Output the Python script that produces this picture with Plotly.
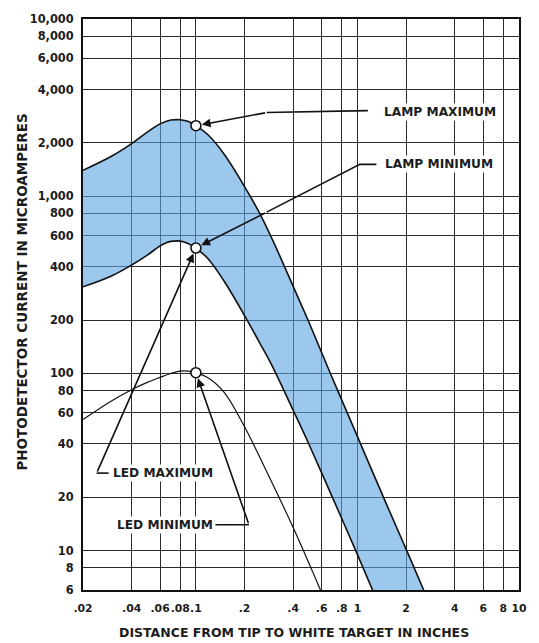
import numpy as np
import plotly.graph_objects as go

# ---- data ----
lamp_max_x = [0.02, 0.03, 0.04, 0.05, 0.06, 0.07, 0.08, 0.09, 0.1, 0.12, 0.15, 0.2, 0.25, 0.3, 0.4, 0.5, 0.7, 1.0, 1.5, 2.0, 2.57]
lamp_max_y = [1400, 1680, 1980, 2300, 2560, 2690, 2700, 2640, 2500, 2200, 1720, 1134, 790, 560, 310, 195, 94, 44, 18.6, 10.2, 6]

lamp_min_x = [0.02, 0.03, 0.04, 0.05, 0.06, 0.065, 0.07, 0.08, 0.09, 0.1, 0.12, 0.15, 0.2, 0.25, 0.3, 0.4, 0.5, 0.7, 1.0, 1.24]
lamp_min_y = [308, 355, 409, 465, 525, 545, 556, 558, 540, 510, 440, 330, 212, 147, 108, 62, 40, 20, 9.5, 6]

led_min_x = [0.02, 0.03, 0.04, 0.05, 0.06, 0.07, 0.08, 0.09, 0.1, 0.12, 0.15, 0.2, 0.274, 0.4, 0.59]
led_min_y = [55, 70, 81, 89, 95, 100, 103, 103, 101, 94, 78, 50, 28, 13.5, 6]

marker_x = [0.1, 0.1, 0.1]
marker_y = [2500, 510, 101]

x_tickvals = [0.02, 0.04, 0.06, 0.08, 0.1, 0.2, 0.4, 0.6, 0.8, 1, 2, 4, 6, 8, 10]
x_ticktext = [".02", ".04", ".06", ".08", ".1", ".2", ".4", ".6", ".8", "1", "2", "4", "6", "8", "10"]
y_tickvals = [6, 8, 10, 20, 40, 60, 80, 100, 200, 400, 600, 800, 1000, 2000, 4000, 6000, 8000, 10000]
y_ticktext = ["6", "8", "10", "20", "40", "60", "80", "100", "200", "400", "600", "800",
              "1,000", "2,000", "4,000", "6,000", "8,000", "10,000"]

x_title = "DISTANCE FROM TIP TO WHITE TARGET IN INCHES"
y_title = "PHOTODETECTOR CURRENT IN MICROAMPERES"

FONT = "DejaVu Sans, Liberation Sans, Arial, sans-serif"
TXT = "#1c1c1c"
BLUE_FILL = "rgba(90,163,227,0.6)"
GRID = "#2b2b2b"
SMOOTH = 1.0

fig = go.Figure()

# blue band between lamp minimum and lamp maximum
fig.add_trace(go.Scatter(x=lamp_min_x, y=lamp_min_y, mode="lines",
                         line=dict(width=0, shape="spline", smoothing=SMOOTH),
                         hoverinfo="skip", showlegend=False))
fig.add_trace(go.Scatter(x=lamp_max_x, y=lamp_max_y, mode="lines", fill="tonexty",
                         fillcolor=BLUE_FILL,
                         line=dict(width=0, shape="spline", smoothing=SMOOTH),
                         hoverinfo="skip", showlegend=False))

# curve outlines
for xs, ys, w in [(lamp_max_x, lamp_max_y, 1.6), (lamp_min_x, lamp_min_y, 1.6), (led_min_x, led_min_y, 1.2)]:
    fig.add_trace(go.Scatter(x=xs, y=ys, mode="lines",
                             line=dict(color="#111", width=w, shape="spline", smoothing=SMOOTH),
                             hoverinfo="skip", showlegend=False))

# leader polylines (label side)
leaders = [
    ([1.16, 0.274], [3040, 2965]),               # lamp maximum
    ([1.31, 1.035, 0.274], [1513, 1513, 813]),   # lamp minimum
    ([0.0288, 0.0243], [27.4, 27.4]),            # led maximum
    ([0.132, 0.213], [14.0, 14.0]),              # led minimum
]
for lx, ly in leaders:
    fig.add_trace(go.Scatter(x=lx, y=ly, mode="lines", line=dict(color="#111", width=1.6),
                             hoverinfo="skip", showlegend=False))

# circle markers
fig.add_trace(go.Scatter(x=marker_x, y=marker_y, mode="markers",
                         marker=dict(size=10, color="white", line=dict(color="#111", width=1.6)),
                         hoverinfo="skip", showlegend=False))

# arrow segments ending at the circles
arrows = [
    ((0.274, 2965), (0.1, 2500)),
    ((0.274, 813), (0.1, 510)),
    ((0.0243, 27.4), (0.1, 510)),
    ((0.213, 14.0), (0.1, 101)),
]
for (tx, ty), (hx, hy) in arrows:
    fig.add_annotation(x=np.log10(hx), y=np.log10(hy), ax=np.log10(tx), ay=np.log10(ty),
                       xref="x", yref="y", axref="x", ayref="y", text="",
                       showarrow=True, arrowhead=2, arrowsize=1.1, arrowwidth=1.6,
                       arrowcolor="#111", standoff=6)

# in-chart labels
labels = [
    ("LAMP MAXIMUM", 1.41, 3000, "left"),
    ("LAMP MINIMUM", 1.43, 1513, "left"),
    ("LED MAXIMUM", 0.0300, 27.4, "left"),
    ("LED MINIMUM", 0.131, 14.0, "right"),
]
for txt, lx, ly, anc in labels:
    fig.add_annotation(x=np.log10(lx), y=np.log10(ly), xref="x", yref="y", text=txt,
                       showarrow=False, xanchor=anc, yanchor="middle", bgcolor="white",
                       borderpad=1,
                       font=dict(family=FONT, size=12.2, color=TXT, weight="bold"))

# axis titles
fig.add_annotation(x=0.485, y=-0.075, xref="paper", yref="paper", text=x_title, showarrow=False,
                   xanchor="center", yanchor="middle",
                   font=dict(family=FONT, size=12.5, color=TXT, weight="bold"))
fig.add_annotation(x=-0.142, y=0.521, xref="paper", yref="paper", text=y_title, showarrow=False,
                   textangle=-90, xanchor="center", yanchor="middle",
                   font=dict(family=FONT, size=13.5, color=TXT, weight="bold"))

axis_common = dict(type="log", showgrid=True, gridcolor=GRID, gridwidth=1.3,
                   showline=True, linecolor="#111", linewidth=2, mirror=True,
                   zeroline=False, ticks="", tickmode="array", tickangle=0)

fig.update_xaxes(range=[np.log10(0.02), 1], tickvals=x_tickvals, ticktext=x_ticktext,
                 ticklabelstandoff=7,
                 tickfont=dict(family=FONT, size=10.8, color=TXT, weight="bold"), **axis_common)
fig.update_yaxes(range=[np.log10(6), 4], tickvals=y_tickvals, ticktext=y_ticktext,
                 ticklabelstandoff=5,
                 tickfont=dict(family=FONT, size=11.4, color=TXT, weight="bold"), **axis_common)

fig.update_layout(width=539, height=643, margin=dict(l=83, r=13, t=16, b=53),
                  plot_bgcolor="white", paper_bgcolor="white", showlegend=False)

# remove the default 8px page margin so the figure fills the window exactly
fig.write_html("out.html", config={"displayModeBar": False},
               post_script="document.body.style.margin='0';document.body.style.overflow='hidden';")
